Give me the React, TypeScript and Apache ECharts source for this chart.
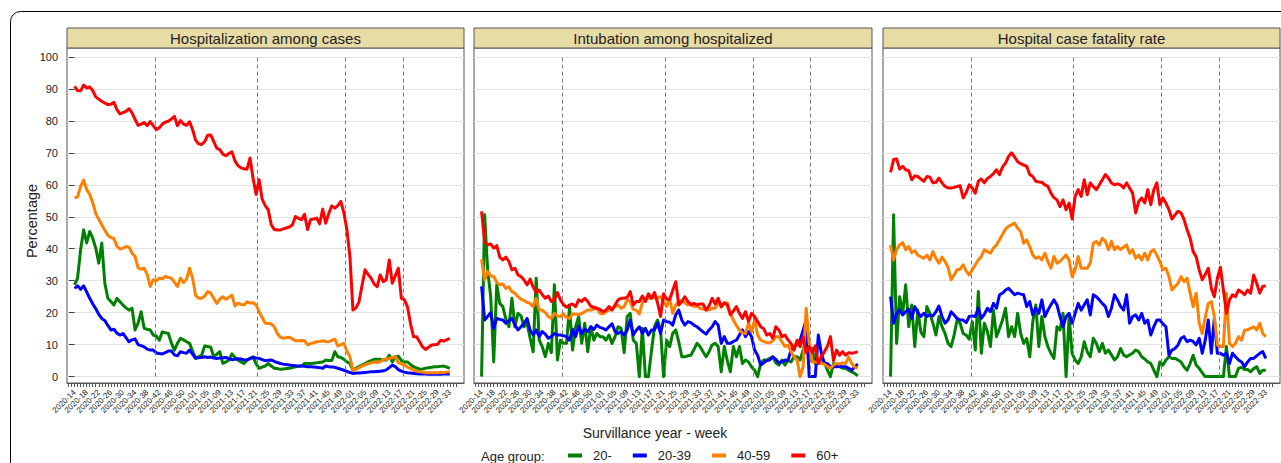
import React, { useEffect, useRef } from 'react';
import * as echarts from 'echarts';

const tickLabels = [
  '2020-14', '2020-18', '2020-22', '2020-26', '2020-30', '2020-34', '2020-38', '2020-42',
  '2020-46', '2020-50', '2021-01', '2021-05', '2021-09', '2021-13', '2021-17', '2021-21',
  '2021-25', '2021-29', '2021-33', '2021-37', '2021-41', '2021-45', '2021-49', '2022-01',
  '2022-05', '2022-09', '2022-13', '2022-17', '2022-21', '2022-25', '2022-29', '2022-33',
];
const ageGroups = ['20-', '20-39', '40-59', '60+'];
const groupColors = ['#008000', '#0000ff', '#ff8000', '#ff0000'];
const panelTitles = ['Hospitalization among cases', 'Intubation among hospitalized', 'Hospital case fatality rate'];
const waveBreaks = [26.5, 60.5, 89.5, 108.5];
const yTicks = [0, 10, 20, 30, 40, 50, 60, 70, 80, 90, 100];

// Panel 1: Hospitalization among cases
const hospGreen = [
  28.7, 30.8, 39.7, 45.9, 41.8, 45.4, 43.3, 40.2, 35.5, 41.8,
  29.2, 24.5, 23.5, 22.4, 24.5, 23.4, 22.4, 21.5, 20.8, 21.4,
  14.6, 16.7, 20.3, 15.1, 14.8, 14.6, 13.0, 12.7, 11.4, 14.0,
  13.7, 13.5, 10.5, 8.3, 10.4, 12.0, 11.5, 10.9, 10.4, 8.0,
  5.7, 6.2, 6.7, 9.6, 9.4, 9.2, 6.2, 7.0, 7.8, 4.1,
  4.6, 5.2, 7.1, 6.0, 5.2, 4.6, 4.1, 5.2, 5.7, 6.2,
  4.0, 2.6, 3.0, 3.3, 4.1, 3.3, 2.6, 2.5, 2.3, 2.4,
  2.5, 2.6, 2.8, 3.1, 3.2, 3.3, 4.1, 4.1, 4.1, 4.2,
  4.3, 4.5, 4.6, 5.2, 5.0, 5.0, 7.8, 6.2, 6.0, 5.4,
  4.6, 4.1, 2.0, 2.6, 3.1, 3.6, 4.1, 4.6, 5.0, 5.4,
  5.4, 5.4, 5.2, 5.2, 6.7, 4.6, 6.2, 6.4, 5.0, 4.6,
  4.6, 3.8, 3.1, 2.7, 2.3, 2.4, 2.6, 2.8, 2.9, 3.1,
  3.1, 3.2, 3.3, 3.0, 2.6,
];
const hospBlue = [
  27.6, 28.4, 27.3, 28.4, 26.5, 24.5, 22.8, 21.2, 19.5, 18.2,
  17.5, 16.0, 14.6, 14.8, 13.6, 13.0, 13.5, 12.2, 10.9, 11.5,
  11.8, 10.0, 9.7, 9.3, 8.6, 8.3, 8.3, 7.4, 7.2, 7.1,
  7.5, 8.0, 8.0, 6.8, 6.5, 7.8, 7.5, 7.3, 8.3, 7.0,
  5.8, 5.9, 6.0, 6.2, 6.0, 6.1, 5.8, 5.7, 5.8, 5.9,
  6.0, 5.6, 5.3, 5.4, 5.6, 5.5, 5.3, 5.2, 5.6, 6.0,
  5.8, 5.7, 5.3, 5.0, 5.1, 5.2, 4.8, 4.4, 4.1, 3.9,
  3.8, 3.6, 3.5, 3.4, 3.3, 3.3, 3.2, 3.1, 3.1, 3.0,
  2.9, 2.8, 2.6, 3.3, 3.1, 3.0, 2.9, 2.6, 2.3, 2.0,
  1.6, 1.3, 1.0, 1.1, 1.1, 1.2, 1.3, 1.4, 1.5, 1.5,
  1.6, 1.7, 1.8, 2.1, 2.8, 3.6, 3.1, 2.2, 1.7, 1.4,
  1.2, 1.1, 1.0, 0.9, 0.8, 0.8, 0.8, 0.7, 0.7, 0.7,
  0.7, 0.7, 0.8, 0.8, 0.8,
];
const hospOrange = [
  55.9, 56.2, 59.5, 61.5, 58.5, 57.0, 54.5, 51.0, 49.2, 47.5,
  45.8, 44.2, 43.5, 43.2, 40.8, 39.9, 40.2, 40.7, 40.5, 38.6,
  37.6, 34.0, 33.6, 33.9, 32.0, 28.2, 30.3, 29.9, 30.8, 30.6,
  31.3, 31.0, 30.8, 29.5, 28.2, 30.8, 29.4, 30.5, 33.9, 30.8,
  25.5, 24.5, 24.5, 25.2, 26.6, 26.1, 24.5, 22.9, 24.2, 25.0,
  24.2, 24.8, 25.5, 22.1, 23.0, 22.6, 22.4, 23.4, 23.0, 23.1,
  22.4, 20.3, 18.5, 16.7, 16.6, 16.5, 15.6, 13.5, 12.3, 12.0,
  12.2, 12.3, 11.8, 11.2, 11.2, 11.3, 11.2, 9.9, 10.3, 10.6,
  10.9, 11.0, 11.2, 11.0, 10.9, 11.3, 11.7, 9.6, 10.0, 10.4,
  8.0, 6.2, 2.0, 2.3, 2.8, 3.3, 3.7, 4.1, 4.3, 4.6,
  4.4, 4.6, 5.4, 5.4, 5.7, 5.9, 6.2, 4.3, 4.0, 3.6,
  3.0, 2.6, 2.0, 1.8, 1.5, 1.4, 1.2, 1.2, 1.2, 1.2,
  1.2, 1.3, 1.3, 1.4, 1.5,
];
const hospRed = [
  90.8, 89.5, 89.4, 91.2, 90.3, 90.6, 89.5, 87.5, 86.8, 86.1,
  85.6, 85.1, 85.2, 85.8, 83.5, 82.2, 82.6, 83.0, 83.8, 82.5,
  80.5, 78.6, 79.0, 79.5, 78.5, 79.8, 78.5, 77.3, 77.8, 79.0,
  79.6, 79.9, 80.6, 81.4, 78.5, 80.1, 79.0, 78.6, 79.7, 77.3,
  74.0, 72.8, 72.6, 73.5, 75.5, 75.6, 73.5, 71.5, 71.0, 69.6,
  69.1, 69.8, 70.3, 67.5, 66.0, 65.3, 65.0, 64.9, 68.4, 62.0,
  57.0, 61.6, 55.5, 53.5, 52.2, 47.5, 46.0, 45.9, 45.9, 46.2,
  46.5, 46.8, 47.5, 50.1, 49.5, 49.1, 50.8, 46.0, 49.1, 49.3,
  49.6, 47.8, 52.4, 48.0, 51.0, 53.4, 52.7, 53.5, 54.8, 51.2,
  46.0, 37.6, 20.8, 21.5, 23.4, 28.5, 33.4, 32.0, 30.8, 29.0,
  28.1, 31.8, 29.7, 30.3, 36.5, 29.2, 31.5, 33.9, 24.5, 24.0,
  21.9, 16.7, 12.5, 12.5, 11.0, 9.3, 8.5, 9.2, 9.9, 10.0,
  10.1, 11.4, 11.1, 11.5, 12.0,
];

// Panel 2: Intubation among hospitalized
const intubGreen = [
  0.0, 50.6, 33.4, 25.0, 4.6, 28.7, 22.9, 21.9, 18.0, 15.6,
  24.5, 15.6, 19.8, 19.0, 15.6, 16.7, 12.0, 7.8, 30.8, 11.4,
  9.4, 6.2, 10.4, 7.5, 28.7, 5.2, 11.4, 10.4, 10.4, 21.9,
  8.3, 15.6, 18.8, 10.4, 16.7, 7.8, 15.6, 11.4, 13.5, 12.5,
  12.5, 11.4, 13.0, 10.4, 12.5, 15.6, 15.1, 7.5, 18.8, 19.8,
  11.4, 10.4, 0.0, 15.1, 0.0, 0.0, 8.0, 15.6, 17.7, 14.6,
  0.0, 11.4, 9.4, 13.5, 14.6, 10.9, 6.2, 6.2, 6.5, 6.7,
  8.5, 10.4, 9.4, 7.8, 6.2, 7.8, 9.9, 10.4, 9.4, 1.5,
  9.4, 5.0, 1.5, 9.4, 6.2, 9.4, 4.1, 5.2, 4.6, 3.0,
  2.0, 0.0, 4.1, 5.2, 5.2, 5.7, 6.2, 4.3, 3.6, 5.2,
  3.6, 5.2, 4.6, 6.2, 6.2, 5.2, 8.3, 12.0, 6.7, 8.8,
  4.1, 4.1, 5.7, 4.6, 2.0, 0.0, 4.1, 3.3, 3.1, 2.6,
  2.6, 2.0, 1.5, 1.0, 0.2,
];
const intubBlue = [
  28.2, 17.7, 18.8, 20.0, 15.1, 18.2, 17.9, 17.7, 16.7, 17.5,
  18.2, 16.1, 14.6, 15.6, 16.7, 18.2, 14.5, 13.0, 14.6, 12.5,
  14.1, 13.3, 12.0, 12.5, 13.5, 13.0, 13.0, 12.8, 12.5, 11.4,
  14.8, 12.5, 15.8, 13.5, 14.8, 14.1, 15.6, 14.8, 16.1, 15.4,
  15.1, 14.6, 15.6, 16.5, 14.1, 13.5, 14.1, 13.0, 14.6, 17.7,
  13.0, 14.5, 15.6, 13.5, 15.1, 13.0, 14.6, 14.6, 16.7, 13.5,
  17.7, 17.2, 17.0, 16.1, 19.3, 20.8, 17.7, 16.1, 17.2, 16.9,
  16.1, 15.6, 14.8, 14.0, 13.3, 14.6, 15.6, 17.2, 16.1, 10.4,
  12.5, 10.4, 10.4, 11.0, 11.4, 13.0, 14.6, 12.5, 14.1, 12.5,
  8.3, 6.7, 3.6, 4.3, 5.0, 5.2, 6.2, 5.4, 4.3, 4.6,
  5.2, 5.0, 8.3, 9.4, 9.9, 11.4, 14.5, 17.7, 0.0, 0.0,
  0.0, 13.0, 7.3, 4.1, 4.1, 3.1, 3.1, 3.1, 3.3, 3.1,
  3.1, 2.6, 2.0, 3.0, 3.9,
];
const intubOrange = [
  36.7, 30.3, 32.9, 31.5, 31.3, 29.5, 28.7, 29.0, 27.6, 28.1,
  26.6, 26.1, 25.0, 24.2, 23.8, 23.2, 22.9, 21.9, 24.5, 20.8,
  20.8, 20.0, 18.8, 18.2, 19.8, 19.0, 18.8, 19.6, 18.5, 18.2,
  19.6, 19.6, 19.3, 19.8, 20.3, 20.8, 20.8, 21.1, 21.4, 19.8,
  19.6, 20.3, 20.8, 21.1, 21.9, 22.4, 21.4, 21.9, 24.0, 23.5,
  21.0, 20.8, 19.6, 23.1, 24.2, 24.5, 24.5, 24.8, 24.5, 25.0,
  23.5, 21.9, 24.5, 19.8, 22.4, 23.5, 23.8, 23.1, 22.4, 22.9,
  21.9, 22.1, 21.4, 21.1, 21.1, 20.8, 21.4, 21.4, 23.1, 21.7,
  22.9, 23.1, 19.8, 17.7, 16.0, 14.6, 13.7, 13.5, 16.7, 14.1,
  17.7, 13.0, 11.4, 11.0, 10.6, 10.6, 11.2, 12.5, 12.5, 10.9,
  9.4, 9.9, 7.8, 6.2, 5.2, 0.0, 3.1, 21.4, 10.4, 4.6,
  4.6, 4.3, 4.1, 3.9, 3.2, 2.6, 3.6, 4.1, 3.9, 4.3,
  4.1, 6.2, 4.1, 3.0, 2.6,
];
const intubRed = [
  51.7, 42.3, 41.2, 41.5, 40.2, 41.0, 37.4, 36.5, 37.4, 36.0,
  33.4, 33.9, 31.8, 31.3, 30.2, 28.7, 30.5, 28.0, 26.3, 27.1,
  25.6, 24.5, 25.2, 23.5, 24.0, 26.3, 24.0, 22.5, 21.7, 22.4,
  22.7, 21.9, 24.0, 23.5, 24.5, 23.5, 22.0, 21.7, 21.4, 21.0,
  20.3, 20.8, 21.9, 20.8, 22.4, 24.0, 24.5, 24.5, 24.8, 26.6,
  22.4, 23.5, 23.5, 25.2, 23.5, 25.9, 24.5, 26.3, 23.1, 18.8,
  25.9, 24.2, 24.2, 26.9, 29.7, 22.4, 23.5, 25.0, 23.5, 22.4,
  22.9, 22.4, 22.7, 22.7, 20.8, 22.1, 24.5, 22.7, 24.5, 21.9,
  23.1, 22.4, 19.3, 20.5, 21.9, 19.8, 18.2, 20.3, 17.2, 19.8,
  18.8, 17.2, 15.6, 15.0, 13.0, 13.5, 12.0, 15.6, 14.6, 12.5,
  13.0, 11.5, 10.4, 8.3, 11.4, 9.4, 12.5, 7.5, 9.4, 7.5,
  9.6, 4.1, 6.2, 7.8, 9.5, 12.5, 5.0, 8.3, 6.7, 7.8,
  6.7, 7.5, 7.3, 7.5, 7.8,
];

// Panel 3: Hospital case fatality rate
const fatalGreen = [
  0.0, 50.6, 10.4, 25.0, 19.8, 28.7, 15.6, 22.4, 9.4, 20.8,
  14.0, 12.5, 21.9, 19.8, 16.7, 13.0, 18.8, 15.6, 13.5, 10.4,
  9.4, 13.0, 17.7, 16.7, 13.5, 13.0, 11.7, 17.2, 8.3, 26.6,
  7.3, 16.7, 14.1, 9.4, 20.8, 12.5, 15.0, 17.7, 21.4, 12.5,
  15.6, 12.5, 19.8, 13.5, 10.4, 11.9, 6.2, 17.2, 22.4, 9.4,
  18.8, 12.5, 9.4, 7.3, 5.7, 15.6, 14.6, 19.8, 0.0, 18.8,
  7.3, 5.2, 4.1, 6.2, 10.9, 7.8, 6.2, 12.0, 10.4, 7.8,
  10.4, 7.3, 8.3, 6.8, 5.2, 6.2, 8.8, 6.8, 6.2, 6.8,
  7.3, 8.3, 7.8, 6.2, 5.5, 4.6, 4.1, 2.0, 0.0, 4.6,
  3.6, 5.2, 6.2, 5.7, 5.7, 5.2, 4.6, 3.0, 2.0, 4.1,
  6.7, 3.6, 2.6, 1.2, 0.0, 0.0, 0.0, 0.0, 0.0, 0.0,
  0.0, 9.4, 0.0, 0.0, 0.0, 2.6, 2.9, 2.2, 2.2, 1.5,
  2.5, 3.1, 1.0, 2.0, 2.0,
];
const fatalBlue = [
  25.0, 16.7, 19.8, 20.8, 19.3, 20.3, 21.1, 18.2, 21.9, 20.0,
  18.8, 19.8, 18.8, 19.3, 19.0, 20.3, 22.1, 18.8, 16.7, 17.7,
  20.3, 19.3, 18.2, 17.7, 17.7, 16.9, 18.8, 19.0, 18.8, 21.4,
  18.2, 19.5, 21.4, 20.3, 22.9, 21.4, 25.6, 26.1, 27.1, 27.6,
  26.6, 25.6, 26.1, 25.8, 25.6, 21.9, 23.5, 19.3, 21.4, 19.8,
  24.0, 18.8, 20.8, 22.5, 24.0, 22.4, 18.8, 15.6, 18.8, 19.8,
  16.7, 19.8, 22.9, 20.8, 22.5, 24.0, 19.3, 25.6, 25.0, 24.0,
  22.9, 21.9, 18.8, 21.4, 25.6, 24.0, 22.0, 20.8, 25.6, 16.7,
  18.8, 19.3, 17.7, 19.8, 16.7, 17.7, 13.0, 15.6, 17.7, 17.7,
  16.5, 15.6, 6.7, 8.3, 8.8, 9.9, 12.0, 12.5, 10.9, 11.4,
  11.0, 9.9, 12.0, 7.3, 11.4, 17.7, 7.3, 18.2, 7.3, 7.3,
  6.7, 7.3, 4.1, 7.3, 6.2, 5.2, 4.6, 3.1, 4.6, 5.7,
  5.7, 6.5, 7.3, 7.8, 5.7,
];
const fatalOrange = [
  41.2, 36.5, 39.7, 41.2, 41.9, 39.7, 40.7, 38.8, 39.4, 38.0,
  37.5, 37.0, 38.0, 36.5, 39.1, 37.0, 35.5, 37.4, 36.0, 34.2,
  30.3, 31.8, 33.4, 33.6, 35.0, 33.0, 31.8, 33.4, 35.0, 36.5,
  37.6, 39.7, 39.1, 38.6, 40.2, 41.2, 42.8, 44.5, 46.2, 47.0,
  47.5, 48.0, 46.4, 45.4, 41.7, 42.8, 40.7, 38.0, 37.0, 37.5,
  36.5, 38.6, 36.0, 33.9, 37.6, 35.5, 36.0, 37.0, 38.0, 36.5,
  31.3, 33.4, 37.6, 33.9, 34.0, 33.9, 35.5, 41.7, 42.3, 41.2,
  43.3, 42.3, 39.7, 42.3, 39.7, 40.7, 39.7, 40.5, 41.2, 38.6,
  39.7, 37.0, 38.0, 36.5, 38.6, 36.5, 39.1, 39.7, 38.0, 36.0,
  33.4, 33.9, 31.3, 27.1, 28.2, 29.2, 31.3, 29.7, 30.8, 26.1,
  21.9, 26.1, 16.7, 13.5, 18.5, 22.9, 23.5, 18.8, 9.9, 9.4,
  9.4, 26.1, 10.4, 9.4, 10.4, 12.5, 11.4, 14.6, 14.6, 15.1,
  15.6, 14.6, 16.7, 13.5, 12.5,
];
const fatalRed = [
  63.9, 67.9, 68.1, 64.9, 65.8, 64.7, 64.4, 61.6, 62.8, 62.6,
  61.8, 61.1, 62.6, 62.4, 60.6, 60.8, 62.1, 60.6, 59.5, 59.0,
  59.0, 59.2, 59.5, 59.7, 55.9, 57.6, 60.0, 59.0, 57.4, 61.1,
  61.8, 60.6, 62.0, 62.6, 63.5, 64.7, 63.2, 65.6, 66.8, 68.9,
  70.0, 68.7, 67.2, 66.6, 66.2, 65.8, 63.2, 62.6, 61.1, 60.9,
  60.8, 60.0, 59.5, 57.4, 56.0, 55.3, 53.2, 55.3, 52.2, 54.3,
  49.3, 56.4, 58.5, 56.4, 61.6, 56.9, 60.6, 59.5, 58.5, 60.0,
  61.6, 63.2, 62.1, 60.6, 60.0, 60.3, 60.0, 59.0, 60.6, 59.0,
  57.4, 51.2, 54.8, 55.9, 54.3, 58.5, 53.8, 58.5, 60.6, 53.8,
  55.9, 54.3, 52.2, 49.3, 50.6, 51.7, 51.2, 49.1, 45.9, 43.3,
  39.1, 37.5, 33.4, 30.3, 32.0, 33.9, 27.6, 25.0, 30.8, 34.2,
  27.1, 19.8, 24.0, 25.6, 25.0, 27.1, 26.5, 25.6, 27.1, 26.1,
  31.8, 29.2, 26.1, 28.2, 28.4,
];

const panelData = [
  [hospGreen, hospBlue, hospOrange, hospRed],
  [intubGreen, intubBlue, intubOrange, intubRed],
  [fatalGreen, fatalBlue, fatalOrange, fatalRed],
];

const FONT = "'Liberation Sans', Arial, Helvetica, sans-serif";
const GRID_TOP = 48;
const GRID_HEIGHT = 335;
const panels = [
  { left: 67, width: 397 },
  { left: 474, width: 398 },
  { left: 883, width: 397 },
];

const xTickValues: number[] = [];
for (let i = -2; i <= 126; i++) xTickValues.push(i);
const xLabelValues = tickLabels.map((_, k) => k * 4);

export default function App() {
  const ref = useRef<HTMLDivElement>(null);
  useEffect(() => {
    if (!ref.current) return;
    const chart = echarts.init(ref.current, null, { renderer: 'svg' });

    const grid = panels.map((p) => ({
      left: p.left,
      top: GRID_TOP,
      width: p.width,
      height: GRID_HEIGHT,
      show: true,
      backgroundColor: '#ffffff',
      borderColor: '#555555',
      borderWidth: 1,
      containLabel: false,
    }));

    const xAxis = panels.map((_, i) => ({
      type: 'value',
      gridIndex: i,
      min: -2.5,
      max: 128.7,
      axisLine: { show: true, onZero: false, lineStyle: { color: '#555555', width: 1 } },
      axisTick: { show: true, length: 4, lineStyle: { color: '#555555', width: 1 }, customValues: xTickValues },
      axisLabel: {
        show: true,
        rotate: 45,
        fontSize: 8,
        color: '#222222',
        fontFamily: FONT,
        margin: 8,
        customValues: xLabelValues,
        formatter: (v: number) => tickLabels[Math.round(v / 4)] ?? '',
      },
      splitLine: { show: false },
    }));

    const yAxis = panels.map((_, i) => ({
      type: 'value',
      gridIndex: i,
      min: -2,
      max: 102.8,
      axisLine: { show: false },
      axisTick: { show: i === 0, length: 6, lineStyle: { color: '#444444', width: 1 }, customValues: yTicks },
      axisLabel: {
        show: i === 0,
        fontSize: 11,
        color: '#222222',
        fontFamily: FONT,
        margin: 9,
        customValues: yTicks,
      },
      splitLine: { show: true, lineStyle: { color: '#e2e2e2', width: 1 } },
    }));

    const series: any[] = [];
    panelData.forEach((groups, gi) => {
      groups.forEach((values, si) => {
        series.push({
          type: 'line',
          name: ageGroups[si],
          xAxisIndex: gi,
          yAxisIndex: gi,
          data: values.map((v, i) => [i, v]),
          showSymbol: false,
          symbol: 'none',
          clip: true,
          z: 3 + si,
          lineStyle: { width: 3, color: groupColors[si], join: 'round' },
          itemStyle: { color: groupColors[si] },
          emphasis: { disabled: true },
          markLine:
            si === 0
              ? {
                  silent: true,
                  symbol: ['none', 'none'],
                  label: { show: false },
                  lineStyle: { type: [4, 3], color: '#7a7a7a', width: 1 },
                  data: waveBreaks.map((b) => [{ coord: [b, 0] }, { coord: [b, 100] }]),
                }
              : undefined,
        });
      });
    });

    const graphic: any[] = [
      {
        type: 'rect',
        silent: true,
        shape: { x: 10.5, y: 11.5, width: 1300, height: 500, r: 10 },
        style: { fill: 'none', stroke: '#000000', lineWidth: 1 },
      },
    ];
    panels.forEach((p, i) => {
      graphic.push({
        type: 'rect',
        silent: true,
        shape: { x: p.left, y: 28, width: p.width, height: 20 },
        style: { fill: '#e7dba6', stroke: '#555555', lineWidth: 1 },
      });
      graphic.push({
        type: 'text',
        silent: true,
        x: p.left + p.width / 2,
        y: 38.5,
        style: {
          text: panelTitles[i],
          fontSize: 15,
          fontFamily: FONT,
          fill: '#222222',
          align: 'center',
          verticalAlign: 'middle',
        },
      });
    });
    graphic.push({
      type: 'text',
      silent: true,
      x: 32,
      y: 221,
      rotation: Math.PI / 2,
      style: { text: 'Percentage', fontSize: 14.5, fontFamily: FONT, fill: '#222222', align: 'center', verticalAlign: 'middle' },
    });
    graphic.push({
      type: 'text',
      silent: true,
      x: 655,
      y: 433,
      style: { text: 'Survillance year - week', fontSize: 14, fontFamily: FONT, fill: '#222222', align: 'center', verticalAlign: 'middle' },
    });
    graphic.push({
      type: 'text',
      silent: true,
      x: 481,
      y: 456.5,
      style: { text: 'Age group:', fontSize: 13, fontFamily: FONT, fill: '#222222', align: 'left', verticalAlign: 'middle' },
    });

    chart.setOption({
      animation: false,
      backgroundColor: '#ffffff',
      textStyle: { fontFamily: FONT },
      grid,
      xAxis,
      yAxis,
      series,
      graphic,
      legend: {
        data: ageGroups,
        left: 568,
        top: 449,
        padding: 0,
        icon: 'rect',
        itemWidth: 14,
        itemHeight: 4,
        itemGap: 21,
        selectedMode: false,
        textStyle: { fontSize: 13, color: '#222222', fontFamily: FONT, padding: [0, 0, 0, 6] },
      },
    });

    return () => {
      chart.dispose();
    };
  }, []);

  return <div ref={ref} style={{ position: 'absolute', left: 0, top: 0, width: 1281, height: 463 }} />;
}
